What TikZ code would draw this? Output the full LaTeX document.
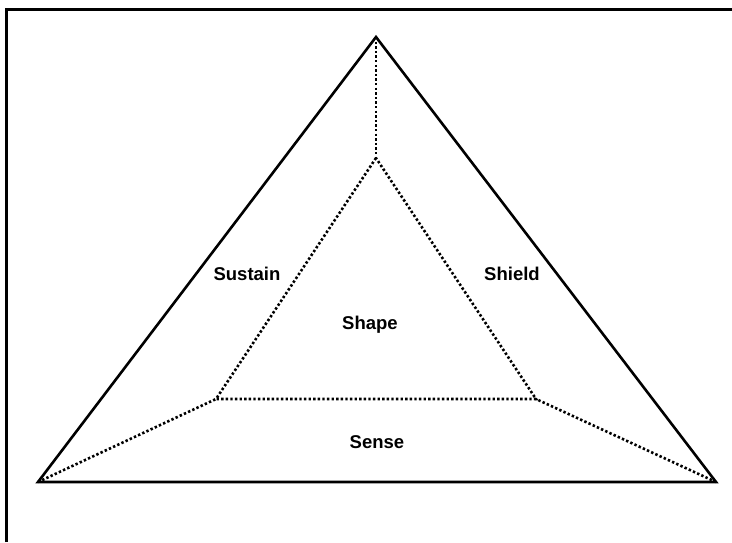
\documentclass[tikz,border=0pt]{standalone}
\usepackage{fontspec}
\setmainfont{Liberation Sans}
\begin{document}
\begin{tikzpicture}[x=1pt,y=-1pt,
  solidline/.style={line width=2.6pt,line join=miter},
  dotline/.style={line width=2.6pt,dash pattern=on 2.4pt off 2.2pt},
  lbl/.style={font=\fontsize{18.5}{22}\selectfont\bfseries}]
\useasboundingbox (0,0) rectangle (732,542);
\draw[line width=2.6pt] (6.5,542) -- (6.5,9.5) -- (732,9.5);
\coordinate (A) at (376,37);
\coordinate (B) at (38,482);
\coordinate (C) at (716,482);
\coordinate (a) at (376,158);
\coordinate (b) at (216,399);
\coordinate (c) at (536,399);
\draw[dotline] (a) -- (b) -- (c) -- cycle;
\draw[dotline] (A) -- (a);
\draw[dotline] (B) -- (b);
\draw[dotline] (C) -- (c);
\draw[solidline] (A) -- (B) -- (C) -- cycle;
\node[lbl] (sustain) at (247,274) {Sustain};
\node[lbl] (shield) at (512,274) {Shield};
\node[lbl] (shape) at (370,325) {Shape};
\node[lbl] (sense) at (377,442) {Sense};
\end{tikzpicture}
\end{document}
